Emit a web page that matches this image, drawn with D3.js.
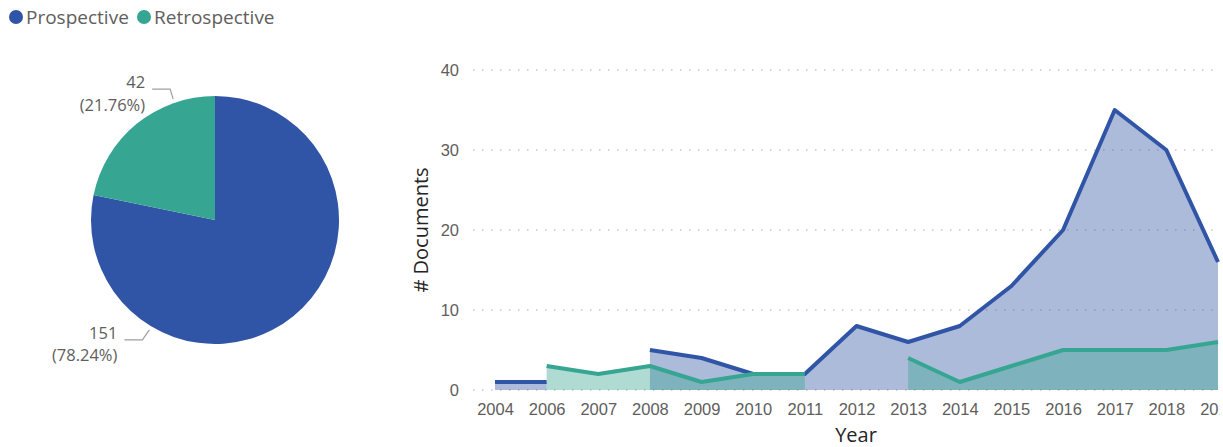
<!DOCTYPE html>
<html>
<head>
<meta charset="utf-8">
<script src="https://cdn.jsdelivr.net/npm/d3@7"></script>
<style>
  body { margin: 0; background: #fff; }
  svg { display: block; font-family: "Segoe UI", "Open Sans", sans-serif; }
</style>
</head>
<body>
<div id="chart"></div>
<script>
// data
var types = ["Prospective", "Retrospective"];
var colors = ["#3155A6", "#36A692"];
var totals = [151, 42];

var years = ["2004", "2006", "2007", "2008", "2009", "2010", "2011", "2012", "2013", "2014", "2015", "2016", "2017", "2018", "2019"];
var prospective = [1, 1, null, 5, 4, 2, 2, 8, 6, 8, 13, 20, 35, 30, 16];
var retrospective = [null, 3, 2, 3, 1, 2, 2, null, 4, 1, 3, 5, 5, 5, 6];
var yTicks = [0, 10, 20, 30, 40];

var width = 1223, height = 447;

var svg = d3.select("#chart").append("svg")
  .attr("width", width)
  .attr("height", height);

// legend
var legend = svg.selectAll(null)
  .data(types)
  .enter()
  .append("g")
  .attr("transform", function(d, i) { return "translate(" + (i ? 144 : 16) + ",17)"; });

legend.append("circle")
  .attr("r", 7)
  .attr("fill", function(d, i) { return colors[i]; });

legend.append("text")
  .attr("x", 10)
  .attr("y", 7)
  .style("font-size", "19px")
  .attr("fill", "#605E5C")
  .text(String);

// pie
var cx = 215, cy = 220, r = 124;
var pie = d3.pie().sort(null)(totals);
var arc = d3.arc().innerRadius(0).outerRadius(r);
var sum = d3.sum(totals);

var pieG = svg.append("g").attr("transform", "translate(" + cx + "," + cy + ")");
pieG.selectAll("path")
  .data(pie)
  .enter()
  .append("path")
  .attr("d", arc)
  .attr("fill", function(d, i) { return colors[i]; });

// labels with leader lines (angle on the rim, elbow offset)
var leaders = [
  { a: 3.68, ex: -7, ey: 10 },   // Prospective, bottom left
  { a: 5.95, ex: -3, ey: -10 }   // Retrospective, top left
];
pie.forEach(function(d, i) {
  var L = leaders[i];
  var px = cx + Math.sin(L.a) * (r + 4), py = cy - Math.cos(L.a) * (r + 4);
  var ex = px + L.ex, ey = py + L.ey;
  svg.append("path")
    .attr("d", "M" + px + "," + py + "L" + ex + "," + ey + "H" + (ex - 18))
    .attr("fill", "none")
    .attr("stroke", "#A19F9D")
    .attr("stroke-width", 1.2);
  var t = svg.append("text")
    .attr("text-anchor", "end")
    .attr("x", ex - 25)
    .attr("y", ey - 1)
    .style("font-size", "16.5px")
    .attr("fill", "#605E5C");
  t.append("tspan").text(d.value);
  t.append("tspan").attr("x", ex - 25).attr("dy", 22.5)
    .text("(" + (d.value / sum * 100).toFixed(2) + "%)");
});

// area chart
var x = d3.scalePoint().domain(years).range([495, 1218]);
var y = d3.scaleLinear().domain([0, 40]).range([390, 70]);

svg.append("defs").append("clipPath").attr("id", "plotclip")
  .append("rect").attr("x", 0).attr("y", 0).attr("width", 1220).attr("height", height);

// grid
svg.append("g").selectAll("line")
  .data(yTicks)
  .enter()
  .append("line")
  .attr("x1", 473).attr("x2", 1220)
  .attr("y1", function(d) { return y(d); })
  .attr("y2", function(d) { return y(d); })
  .attr("stroke", "#C8C6C4")
  .attr("stroke-width", 1.5)
  .attr("stroke-dasharray", "1.5,7.5");

var yAxis = svg.append("g")
  .attr("transform", "translate(459,0)")
  .call(d3.axisLeft(y).tickValues(yTicks).tickSize(0).tickPadding(0));
yAxis.select(".domain").remove();
yAxis.selectAll("text").style("font-size", "16.5px").attr("fill", "#605E5C").attr("dy", "0.35em")
  .style("font-family", "inherit");

var xAxis = svg.append("g")
  .attr("clip-path", "url(#plotclip)")
  .attr("transform", "translate(0,398)")
  .call(d3.axisBottom(x).tickSize(0).tickPadding(0));
xAxis.select(".domain").remove();
xAxis.selectAll("text").style("font-size", "16.5px").attr("fill", "#605E5C").attr("dy", "1em")
  .style("font-family", "inherit");

svg.append("text")
  .attr("transform", "translate(428,230) rotate(-90)")
  .attr("text-anchor", "middle")
  .style("font-size", "20px")
  .attr("fill", "#252423")
  .text("# Documents");

svg.append("text")
  .attr("x", 856).attr("y", 442)
  .attr("text-anchor", "middle")
  .style("font-size", "20px")
  .attr("fill", "#252423")
  .text("Year");

var series = [prospective, retrospective];
var plot = svg.append("g").attr("clip-path", "url(#plotclip)");

series.forEach(function(vals, s) {
  var pts = years.map(function(yr, i) { return { year: yr, v: vals[i] }; });
  var area = d3.area()
    .defined(function(d) { return d.v != null; })
    .x(function(d) { return x(d.year); })
    .y0(y(0))
    .y1(function(d) { return y(d.v); });
  plot.append("path")
    .attr("d", area(pts))
    .attr("fill", colors[s])
    .attr("fill-opacity", 0.4);
});

series.forEach(function(vals, s) {
  var pts = years.map(function(yr, i) { return { year: yr, v: vals[i] }; });
  var line = d3.line()
    .defined(function(d) { return d.v != null; })
    .x(function(d) { return x(d.year); })
    .y(function(d) { return y(d.v); });
  plot.append("path")
    .attr("d", line(pts))
    .attr("fill", "none")
    .attr("stroke", colors[s])
    .attr("stroke-width", 4)
    .attr("stroke-linejoin", "round");
});
</script>
</body>
</html>
